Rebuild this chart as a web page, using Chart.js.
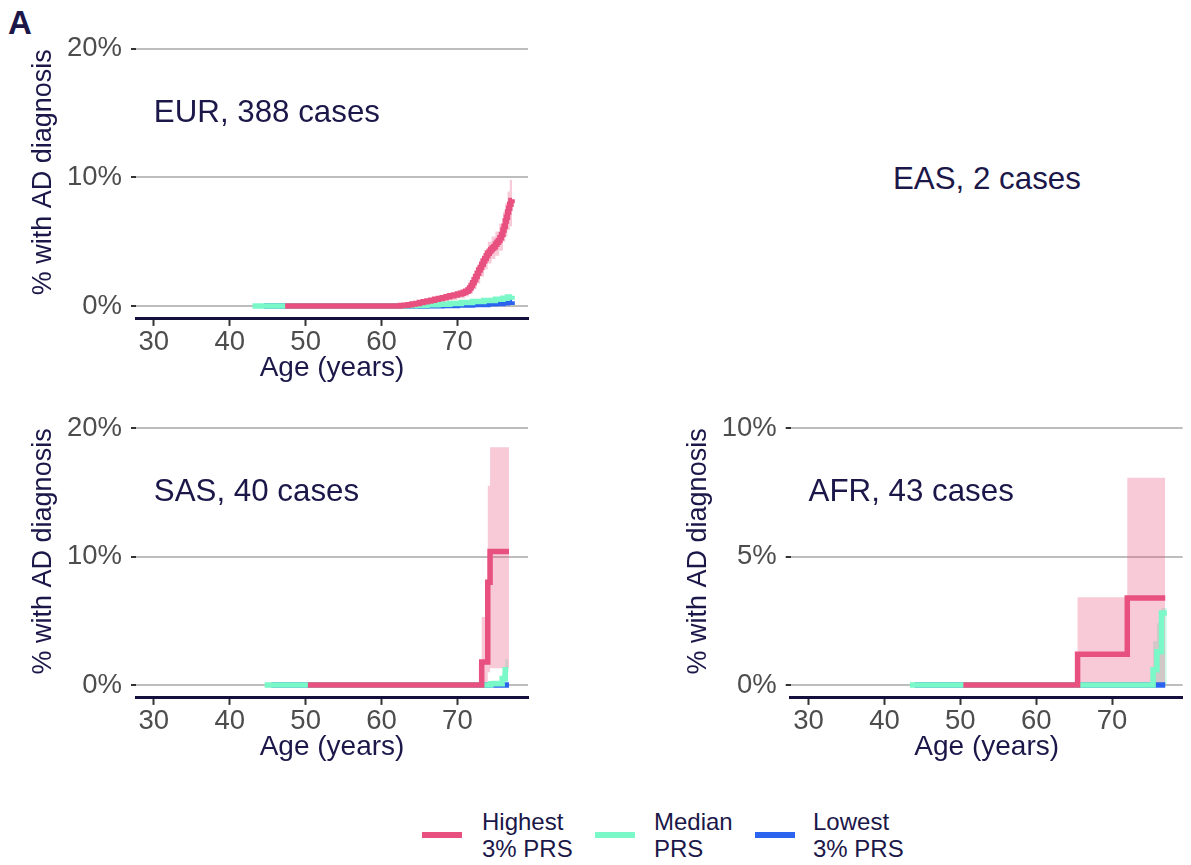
<!DOCTYPE html>
<html>
<head>
<meta charset="utf-8">
<script src="https://cdn.jsdelivr.net/npm/chart.js@4/dist/chart.umd.min.js"></script>
<style>
  body { margin: 0; background: #fff; width: 1191px; height: 865px; position: relative; overflow: hidden;
         font-family: "Liberation Sans", Arial, sans-serif; color: #1b1749; }
  canvas { position: absolute; }
  .abs { position: absolute; white-space: nowrap; }
  #tag { left: 8px; top: 6px; font-size: 33px; line-height: 33px; font-weight: bold; }
  #eas { left: 893px; top: 163px; font-size: 31.3px; line-height: 31px; }
  .sw { position: absolute; width: 40px; height: 5.5px; }
  .lt { position: absolute; font-size: 24px; line-height: 26.6px; top: 809px; }
</style>
</head>
<body>
<div id="tag" class="abs">A</div>
<canvas id="eur" width="560" height="385" style="left:0;top:0"></canvas>
<canvas id="sas" width="560" height="385" style="left:0;top:379px"></canvas>
<canvas id="afr" width="531" height="385" style="left:660px;top:379px"></canvas>
<div id="eas" class="abs">EAS, 2 cases</div>

<div class="sw" style="left:422px;top:832px;background:#e8507f"></div>
<div class="lt" style="left:482px">Highest<br>3% PRS</div>
<div class="sw" style="left:595px;top:832px;background:#7af8c8"></div>
<div class="lt" style="left:654px">Median<br>PRS</div>
<div class="sw" style="left:755px;top:832px;background:#2a64ef"></div>
<div class="lt" style="left:813px">Lowest<br>3% PRS</div>

<script>
// Shared axis settings
const xTicks = [30, 40, 50, 60, 70];
const xMin = 27.65, xMax = 79.3;

// EUR — cumulative % with AD diagnosis by age
const eurHighAge = [47.3, 62.5, 63.0, 63.5, 64.0, 64.5, 65.0, 65.5, 66.0, 66.5, 67.0, 67.5, 68.0, 68.5, 69.0, 69.5, 70.0, 70.5, 70.8, 71.1, 71.4, 71.6, 71.8, 72.0, 72.2, 72.4, 72.6, 72.8, 73.0, 73.2, 73.4, 73.6, 73.8, 74.0, 74.2, 74.4, 74.6, 74.8, 75.0, 75.2, 75.4, 75.6, 75.8, 76.0, 76.15, 76.3, 76.45, 76.6, 76.75, 76.9, 77.05, 77.2];
const eurHigh    = [0, 0.04, 0.07, 0.1, 0.15, 0.2, 0.27, 0.33, 0.4, 0.45, 0.52, 0.58, 0.65, 0.72, 0.8, 0.86, 0.93, 1.0, 1.07, 1.15, 1.25, 1.4, 1.6, 1.8, 2.05, 2.3, 2.55, 2.8, 3.0, 3.25, 3.5, 3.7, 3.9, 4.1, 4.25, 4.4, 4.5, 4.6, 4.8, 4.95, 5.1, 5.3, 5.55, 5.9, 6.2, 6.6, 6.9, 7.3, 7.6, 7.9, 8.2, 8.3];
const eurBandAge = [47.3, 62.5, 64.0, 65.5, 67.0, 68.5, 70.0, 71.0, 71.5, 72.0, 72.5, 73.0, 73.5, 74.0, 74.5, 75.0, 75.5, 76.0, 76.3, 76.6, 76.9, 77.2];
const eurHighLo  = [0, 0, 0.05, 0.15, 0.28, 0.45, 0.6, 0.75, 0.95, 1.3, 1.75, 2.3, 2.85, 3.3, 3.65, 3.9, 4.3, 5.0, 5.4, 5.9, 6.2, 6.4];
const eurHighHi  = [0, 0.1, 0.28, 0.5, 0.75, 1.0, 1.25, 1.45, 1.85, 2.4, 3.0, 3.65, 4.35, 5.0, 5.4, 5.8, 6.4, 7.3, 8.0, 8.9, 9.8, 10.8];
const eurMedAge  = [43.0, 63.0, 64.5, 66.0, 67.5, 69.0, 70.5, 72.0, 73.5, 75.0, 76.0, 76.6, 77.2];
const eurMed     = [0, 0.02, 0.05, 0.09, 0.14, 0.2, 0.27, 0.35, 0.43, 0.52, 0.6, 0.7, 0.8];
const eurMedLo   = [0, 0, 0.01, 0.03, 0.06, 0.11, 0.16, 0.22, 0.29, 0.36, 0.43, 0.5, 0.58];
const eurMedHi   = [0, 0.06, 0.1, 0.16, 0.22, 0.29, 0.38, 0.48, 0.57, 0.68, 0.78, 0.9, 1.05];
const eurLowAge  = [44.5, 66.0, 68.0, 70.0, 72.0, 74.0, 75.0, 76.0, 76.6, 77.2];
const eurLow     = [0, 0.02, 0.05, 0.08, 0.12, 0.17, 0.2, 0.25, 0.3, 0.38];
const eurLowLo   = [0, 0, 0.01, 0.02, 0.04, 0.07, 0.09, 0.12, 0.15, 0.2];
const eurLowHi   = [0, 0.06, 0.1, 0.15, 0.2, 0.27, 0.32, 0.4, 0.48, 1.3];

// SAS
const sasHighAge = [50.3, 73.2, 74.0, 74.3, 76.8];
const sasHigh    = [0, 1.8, 8.0, 10.4, 10.4];
const sasHighLo  = [0, 0.2, 1.0, 1.3, 1.3];
const sasHighHi  = [0, 5.3, 15.5, 18.5, 18.5];
const sasMedAge  = [44.6, 74.4, 75.9, 76.3, 76.7];
const sasMed     = [0, 0.1, 0.5, 1.2, 1.2];
const sasMedLo   = [0, 0, 0.05, 0.2, 0.2];
const sasMedHi   = [0, 0.35, 1.0, 2.0, 2.0];
const sasLowAge  = [45.5, 76.8];
const sasLow     = [0, 0];

// AFR
const afrHighAge = [50.4, 65.45, 72.0, 77.0];
const afrHigh    = [0, 1.2, 3.39, 3.39];
const afrHighLo  = [0, 0, 0, 0];
const afrHighHi  = [0, 3.42, 8.07, 8.07];
const afrMedAge  = [43.35, 75.4, 75.9, 76.5, 77.2];
const afrMed     = [0, 0.6, 1.3, 2.8, 2.8];
const afrMedLo   = [0, 0, 0, 0, 0];
const afrMedHi   = [0, 1.7, 2.4, 3.0, 3.0];
const afrLowAge  = [44.0, 77.0];
const afrLow     = [0, 0];

const COL = { high: '#e8507f', med: '#7af8c8', low: '#2a64ef' };
const BAND = { high: 'rgba(232,80,127,0.30)', med: 'rgba(122,248,200,0.40)', low: 'rgba(42,100,239,0.30)' };
const NAVY = '#1b1749';
const FONT = '"Liberation Sans", Arial, sans-serif';

const pts = (ages, vals) => ages.map((a, i) => ({ x: a, y: vals[i] }));

function line(ages, vals, color) {
  return { data: pts(ages, vals), borderColor: color, borderWidth: 5.5, stepped: true,
           pointRadius: 0, fill: false, borderCapStyle: 'butt', borderJoinStyle: 'miter' };
}
function band(ages, lo, hi, color) {
  return [
    { data: pts(ages, hi), borderWidth: 0, borderColor: 'transparent', stepped: true, pointRadius: 0,
      fill: '+1', backgroundColor: color },
    { data: pts(ages, lo), borderWidth: 0, borderColor: 'transparent', stepped: true, pointRadius: 0, fill: false }
  ];
}

// Draws the panel caption inside the plotting area, anchored in data coordinates
const caption = {
  id: 'caption',
  afterDatasetsDraw(chart, args, opts) {
    const { ctx, scales: { x, y } } = chart;
    ctx.save();
    ctx.font = '31.3px ' + FONT;
    ctx.fillStyle = NAVY;
    ctx.textAlign = 'left';
    ctx.textBaseline = 'middle';
    ctx.fillText(opts.text, x.getPixelForValue(opts.x), y.getPixelForValue(opts.y));
    ctx.restore();
  }
};

function panel(id, p) {
  const datasets = [
    line(p.high[0], p.high[1], COL.high),
    line(p.med[0], p.med[1], COL.med),
    line(p.low[0], p.low[1], COL.low),
    ...band(p.highBand[0], p.highBand[1], p.highBand[2], BAND.high),
    ...(p.med[2] ? band(p.med[0], p.med[2], p.med[3], BAND.med) : []),
    ...(p.low[2] ? band(p.low[0], p.low[2], p.low[3], BAND.low) : [])
  ];
  new Chart(document.getElementById(id), {
    type: 'line',
    data: { datasets },
    plugins: [caption],
    options: {
      responsive: false, animation: false, devicePixelRatio: 1,
      layout: { padding: { top: p.top, right: p.right, left: 0, bottom: 0 } },
      plugins: { legend: { display: false }, tooltip: { enabled: false },
                 caption: { text: p.label, x: 30, y: p.labelY } },
      scales: {
        x: {
          type: 'linear', min: xMin, max: xMax,
          afterBuildTicks: s => { s.ticks = xTicks.map(v => ({ value: v })); },
          afterFit: s => { s.height = 385 - p.bottom; },
          grid: { drawOnChartArea: false, drawTicks: true, tickLength: 7, tickColor: '#333', tickWidth: 2 },
          border: { display: true, color: '#140f3c', width: 3 },
          ticks: { color: '#4d4d4d', font: { family: FONT, size: 27.5 }, padding: 0, maxRotation: 0 },
          title: { display: true, text: 'Age (years)', color: NAVY, font: { family: FONT, size: 28 },
                   padding: { top: 0, bottom: 0 } }
        },
        y: {
          type: 'linear', min: p.yMin, max: p.yMax,
          afterBuildTicks: s => { s.ticks = p.yTicks.map(v => ({ value: v })); },
          afterFit: s => { s.width = p.yWidth; },
          grid: { color: '#bdbdbd', lineWidth: 2, tickLength: 5, tickColor: '#333', tickWidth: 2 },
          border: { display: false },
          ticks: { color: '#4d4d4d', font: { family: FONT, size: 27.5 }, padding: 9,
                   callback: v => v + '%' },
          title: { display: true, text: '% with AD diagnosis', color: NAVY, font: { family: FONT, size: 27 },
                   padding: { top: p.titlePad, bottom: 0 } }
        }
      }
    }
  });
}

panel('eur', {
  high: [eurHighAge, eurHigh],
  highBand: [eurBandAge, eurHighLo, eurHighHi],
  med: [eurMedAge, eurMed, eurMedLo, eurMedHi],
  low: [eurLowAge, eurLow, eurLowLo, eurLowHi],
  yMin: -1, yMax: 21.8, yTicks: [0, 10, 20],
  top: 24.8, bottom: 318.9, right: 32, yWidth: 136, titlePad: 27,
  label: 'EUR, 388 cases', labelY: 15
});

panel('sas', {
  high: [sasHighAge, sasHigh],
  highBand: [sasHighAge, sasHighLo, sasHighHi],
  med: [sasMedAge, sasMed, sasMedLo, sasMedHi],
  low: [sasLowAge, sasLow],
  yMin: -1, yMax: 21.8, yTicks: [0, 10, 20],
  top: 25.9, bottom: 318.9, right: 32, yWidth: 136, titlePad: 27,
  label: 'SAS, 40 cases', labelY: 15
});

panel('afr', {
  high: [afrHighAge, afrHigh],
  highBand: [afrHighAge, afrHighLo, afrHighHi],
  med: [afrMedAge, afrMed, afrMedLo, afrMedHi],
  low: [afrLowAge, afrLow],
  yMin: -0.5, yMax: 10.9, yTicks: [0, 5, 10],
  top: 25.9, bottom: 318.9, right: 8.3, yWidth: 130.7, titlePad: 22.8,
  label: 'AFR, 43 cases', labelY: 7.5
});
</script>
</body>
</html>
